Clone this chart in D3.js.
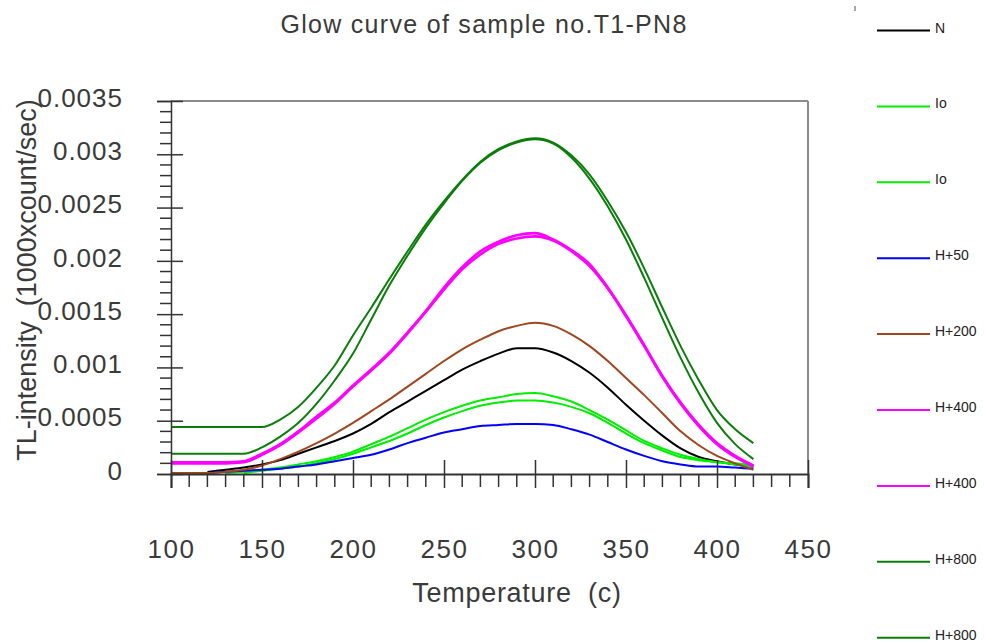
<!DOCTYPE html>
<html>
<head>
<meta charset="utf-8">
<script src="https://cdn.jsdelivr.net/npm/d3@7"></script>
<style>
  body { margin: 0; background: #fff; }
  svg { display: block; font-family: "Liberation Sans", Arial, sans-serif; }
</style>
</head>
<body>
<svg id="chart" width="984" height="643"></svg>
<script>
const width = 984, height = 643

// temperature (c) of every reading
const temps = [100, 110, 120, 130, 140, 150, 160, 170, 180, 190, 200, 210, 220, 230, 240, 250, 260,
  270, 280, 290, 300, 310, 320, 330, 340, 350, 360, 370, 380, 390, 400, 410, 420]

// TL-intensity values (null = not drawn)
const seriesN = [null, null, 0.00002, 0.00004, 0.00006, 0.00009, 0.00013, 0.00019, 0.00025, 0.00031, 0.00038,
  0.00047, 0.00058, 0.00068, 0.00078, 0.00088, 0.00098, 0.00106, 0.00113, 0.00118, 0.00118, 0.00114, 0.00106,
  0.00095, 0.00081, 0.00065, 0.0005, 0.00036, 0.00024, 0.00016, 0.00012, 0.00009, 0.00007]
const seriesIo1 = [null, null, null, 0.00001, 0.00002, 0.00004, 0.00006, 0.00009, 0.00012, 0.00016, 0.00021,
  0.00028, 0.00035, 0.00043, 0.00051, 0.00058, 0.00064, 0.00069, 0.00072, 0.00075, 0.00076, 0.00073, 0.00068,
  0.0006, 0.00051, 0.00041, 0.00031, 0.00024, 0.00018, 0.00014, 0.00011, 0.0001, 0.00008]
const seriesIo2 = [null, null, null, null, 0.00001, 0.00003, 0.00005, 0.00007, 0.0001, 0.00014, 0.00019,
  0.00025, 0.00031, 0.00038, 0.00046, 0.00053, 0.00059, 0.00064, 0.00067, 0.00069, 0.00069, 0.00067, 0.00063,
  0.00057, 0.00048, 0.00038, 0.00029, 0.00022, 0.00016, 0.00013, 0.00011, 0.00009, 0.00007]
const seriesH50 = [null, null, 0.00001, 0.00002, 0.00003, 0.00004, 0.00005, 0.00007, 0.00009, 0.00012, 0.00015,
  0.00018, 0.00023, 0.00029, 0.00034, 0.00039, 0.00042, 0.00045, 0.00046, 0.00047, 0.00047, 0.00046, 0.00042,
  0.00037, 0.0003, 0.00023, 0.00017, 0.00012, 0.00009, 0.00007, 0.00007, 0.00006, 0.00005]
const seriesH200 = [0.00001, 0.00001, 0.00001, 0.00002, 0.00004, 0.00008, 0.00014, 0.00021, 0.00029, 0.00038, 0.00048,
  0.00059, 0.0007, 0.00082, 0.00094, 0.00106, 0.00117, 0.00126, 0.00134, 0.00139, 0.00142, 0.00139, 0.00131,
  0.0012, 0.00106, 0.0009, 0.00074, 0.00057, 0.0004, 0.00027, 0.00017, 0.0001, 0.00004]
const seriesH400a = [0.00011, 0.00011, 0.00011, 0.00011, 0.00012, 0.00019, 0.00028, 0.0004, 0.00054, 0.00067, 0.00083,
  0.00098, 0.00114, 0.00133, 0.00153, 0.00175, 0.00194, 0.00209, 0.00218, 0.00224, 0.00226, 0.0022, 0.0021,
  0.00197, 0.00175, 0.00149, 0.00121, 0.00092, 0.00067, 0.00046, 0.00029, 0.00017, 0.00008]
const seriesH400b = [0.0001, 0.0001, 0.0001, 0.0001, 0.00011, 0.00018, 0.00027, 0.00039, 0.00052, 0.00066, 0.00082,
  0.00097, 0.00113, 0.00132, 0.00152, 0.00173, 0.00192, 0.00206, 0.00216, 0.00221, 0.00223, 0.00219, 0.00209,
  0.00195, 0.00174, 0.00148, 0.0012, 0.00091, 0.00066, 0.00045, 0.00028, 0.00016, 0.00007]
const seriesH800a = [0.00044, 0.00044, 0.00044, 0.00044, 0.00044, 0.00044, 0.00051, 0.00063, 0.00081, 0.00102, 0.0013,
  0.00156, 0.00183, 0.00209, 0.00234, 0.00256, 0.00276, 0.00293, 0.00305, 0.00312, 0.00315, 0.00311, 0.00299,
  0.00281, 0.00256, 0.00227, 0.00193, 0.00156, 0.0012, 0.00088, 0.0006, 0.00042, 0.00029]
const seriesH800b = [0.00019, 0.00019, 0.00019, 0.00019, 0.00019, 0.00025, 0.00035, 0.00048, 0.00066, 0.00088, 0.00113,
  0.00145, 0.00177, 0.00205, 0.00231, 0.00254, 0.00275, 0.00292, 0.00304, 0.00311, 0.00314, 0.0031, 0.00297,
  0.00277, 0.00251, 0.0022, 0.00184, 0.00146, 0.00109, 0.00076, 0.00048, 0.00028, 0.00014]

const legendNames = ['N', 'Io', 'Io', 'H+50', 'H+200', 'H+400', 'H+400', 'H+800', 'H+800']
const lineColors = ['#000000', '#00ee00', '#00ee00', '#0000ff', '#a0461e', '#ff00ff', '#ff00ff', '#0a7d0a', '#0a7d0a']

const xTicks = [100, 150, 200, 250, 300, 350, 400, 450]
const yTicks = [0, 0.0005, 0.001, 0.0015, 0.002, 0.0025, 0.003, 0.0035]
const yTickLabels = ['0', '0.0005', '0.001', '0.0015', '0.002', '0.0025', '0.003', '0.0035']

const allSeries = [seriesN, seriesIo1, seriesIo2, seriesH50, seriesH200, seriesH400a, seriesH400b, seriesH800a, seriesH800b]

const svg = d3.select('#chart')

const x = d3.scaleLinear().domain([100, 450]).range([171, 808])
const y = d3.scaleLinear().domain([0, 0.0035]).range([474, 101])

// frame: grey top and right edges
svg.append('line')
    .attr('x1', 171).attr('x2', 808).attr('y1', 101).attr('y2', 101)
    .attr('stroke', '#8c8c8c').attr('stroke-width', 2)
svg.append('line')
    .attr('x1', 808).attr('x2', 808).attr('y1', 101).attr('y2', 474)
    .attr('stroke', '#8c8c8c').attr('stroke-width', 2)

// curves
const line = d3.line()
    .defined(d => d[1] !== null)
    .x(d => x(d[0]))
    .y(d => y(d[1]))
    .curve(d3.curveMonotoneX)

svg.append('g')
    .selectAll('path')
    .data(allSeries)
    .join('path')
    .attr('fill', 'none')
    .attr('stroke', (d, i) => lineColors[i])
    .attr('stroke-width', (d, i) => lineColors[i] === '#ff00ff' ? 2.6 : 2)
    .attr('d', d => line(temps.map((t, i) => [t, d[i]])))

// y axis
const yAxis = svg.append('g')
    .attr('transform', 'translate(171,0)')
    .call(d3.axisLeft(y).tickValues(yTicks).tickFormat((d, i) => yTickLabels[i]).tickSize(14).tickPadding(34))
yAxis.select('.domain').attr('stroke', '#333').attr('stroke-width', 1.5)
yAxis.selectAll('.tick line').attr('x2', -14).attr('x1', 12).attr('stroke', '#333').attr('stroke-width', 1.5)
yAxis.selectAll('.tick text')
    .attr('font-size', 26).attr('fill', '#3a3a3a').attr('dy', '0.2em')
    .style('letter-spacing', '1px')
    .style('font-family', '"Liberation Sans", Arial, sans-serif')

const yMinor = d3.range(0, 36).map(i => i * 0.0001).filter(v => !yTicks.some(t => Math.abs(t - v) < 1e-9))
svg.append('g')
    .selectAll('line')
    .data(yMinor)
    .join('line')
    .attr('x1', 160).attr('x2', 171)
    .attr('y1', d => y(d)).attr('y2', d => y(d))
    .attr('stroke', '#333').attr('stroke-width', 1.5)

// x axis
const xAxis = svg.append('g')
    .attr('transform', 'translate(0,474)')
    .call(d3.axisBottom(x).tickValues(xTicks).tickFormat(d => d).tickSize(14).tickPadding(52))
xAxis.select('.domain').attr('stroke', '#333').attr('stroke-width', 2)
xAxis.selectAll('.tick line').attr('y1', -14).attr('y2', 14).attr('stroke', '#333').attr('stroke-width', 1.5)
xAxis.selectAll('.tick text')
    .attr('font-size', 26).attr('fill', '#3a3a3a')
    .style('letter-spacing', '1.5px')
    .style('font-family', '"Liberation Sans", Arial, sans-serif')

const xMinor = d3.range(100, 451, 10).filter(v => v % 50 !== 0)
svg.append('g')
    .selectAll('line')
    .data(xMinor)
    .join('line')
    .attr('x1', d => x(d)).attr('x2', d => x(d))
    .attr('y1', 474).attr('y2', 487)
    .attr('stroke', '#333').attr('stroke-width', 1.5)

// titles
svg.append('text')
    .attr('x', 484).attr('y', 33)
    .attr('text-anchor', 'middle')
    .attr('font-size', 25).attr('fill', '#3a3a3a')
    .style('letter-spacing', '1.3px')
    .text('Glow curve of sample no.T1-PN8')

svg.append('text')
    .attr('x', 517).attr('y', 602)
    .attr('text-anchor', 'middle')
    .attr('font-size', 27).attr('fill', '#3a3a3a')
    .style('white-space', 'pre')
    .style('letter-spacing', '0.7px')
    .text('Temperature  (c)')

svg.append('text')
    .attr('transform', 'translate(36,280) rotate(-90)')
    .attr('text-anchor', 'middle')
    .attr('font-size', 27).attr('fill', '#3a3a3a')
    .style('white-space', 'pre')
    .text('TL-intensity  (1000xcount/sec)')

// legend
const legend = svg.append('g')
    .selectAll('g')
    .data(legendNames)
    .join('g')
    .attr('transform', (d, i) => `translate(877,${30.5 + i * 75.9})`)
legend.append('line')
    .attr('x1', 0).attr('x2', 53)
    .attr('stroke', (d, i) => lineColors[i])
    .attr('stroke-width', 2)
legend.append('text')
    .attr('x', 58).attr('y', 2)
    .attr('font-size', 14).attr('fill', '#222')
    .text(d => d)

// small stray mark at the top of the legend column
svg.append('line')
    .attr('x1', 855).attr('x2', 855).attr('y1', 6).attr('y2', 11)
    .attr('stroke', '#555').attr('stroke-width', 1)
</script>
</body>
</html>
